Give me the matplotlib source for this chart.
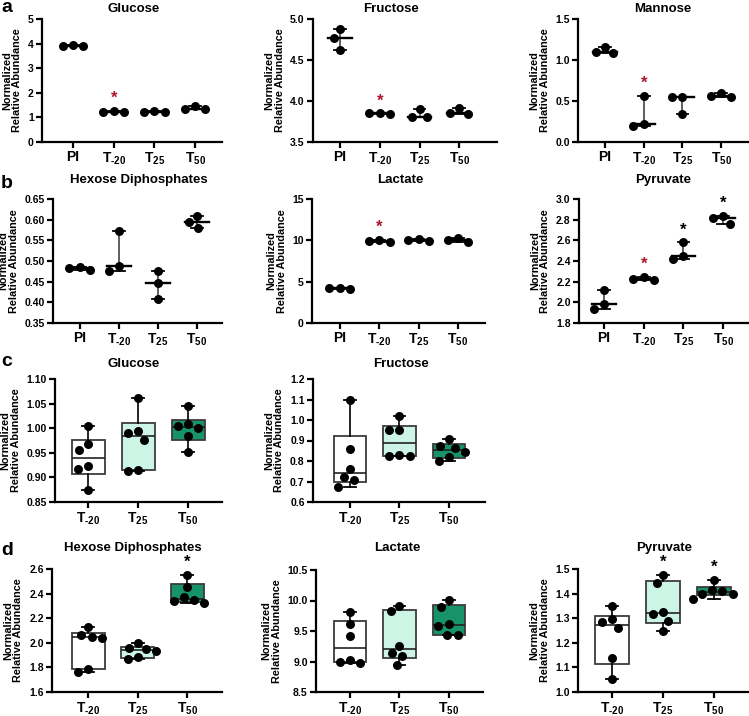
import numpy as np
import matplotlib
matplotlib.use('Agg')
import matplotlib.pyplot as plt

plt.rcParams['font.family'] = ['Liberation Sans', 'DejaVu Sans']
plt.rcParams['font.weight'] = 'bold'
plt.rcParams['mathtext.fontset'] = 'custom'
plt.rcParams['mathtext.rm'] = 'Liberation Sans:bold'
plt.rcParams['mathtext.bf'] = 'Liberation Sans:bold'
plt.rcParams['mathtext.it'] = 'Liberation Sans:bold'

# ---- data ----
labels4 = ['PI', r'$\mathrm{T}_{\mathrm{‐20}}$', r'$\mathrm{T}_{\mathrm{25}}$', r'$\mathrm{T}_{\mathrm{50}}$']
labels3 = labels4[1:]

# row a / b : median with range, n=3
glucose_a = [[3.90, 3.95, 3.90], [1.20, 1.28, 1.22], [1.20, 1.25, 1.22], [1.33, 1.47, 1.35]]
fructose_a = [[4.875, 4.77, 4.62], [3.84, 3.85, 3.85], [3.90, 3.81, 3.81], [3.91, 3.84, 3.85]]
mannose_a = [[1.16, 1.08, 1.10], [0.56, 0.20, 0.22], [0.55, 0.55, 0.34], [0.60, 0.55, 0.56]]
hexdip_b = [[0.478, 0.486, 0.484], [0.573, 0.476, 0.487], [0.476, 0.447, 0.409], [0.610, 0.594, 0.580]]
lactate_b = [[4.15, 4.22, 4.18], [9.85, 10.05, 9.95], [9.95, 10.12, 10.0], [9.85, 10.3, 10.1]]
pyruvate_b = [[2.12, 1.94, 1.98], [2.22, 2.245, 2.23], [2.58, 2.42, 2.45], [2.835, 2.76, 2.82]]

# row c / d : box plots, n=6
glucose_c = [[0.875, 0.918, 0.924, 0.956, 0.968, 1.004],
             [0.913, 0.915, 0.977, 0.990, 0.995, 1.061],
             [0.952, 0.985, 1.000, 1.005, 1.008, 1.045]]
fructose_c = [[0.675, 0.705, 0.720, 0.760, 0.860, 1.100],
              [0.822, 0.826, 0.828, 0.950, 0.952, 1.020],
              [0.800, 0.820, 0.845, 0.865, 0.875, 0.905]]
hexdip_d = [[1.765, 1.790, 2.040, 2.050, 2.065, 2.130],
            [1.865, 1.885, 1.930, 1.950, 1.955, 2.000],
            [2.320, 2.340, 2.350, 2.370, 2.450, 2.555]]
lactate_d = [[8.97, 9.00, 9.02, 9.42, 9.62, 9.81],
             [8.94, 9.09, 9.14, 9.26, 9.82, 9.91],
             [9.43, 9.44, 9.59, 9.61, 9.90, 10.01]]
pyruvate_d = [[1.052, 1.137, 1.260, 1.285, 1.295, 1.348],
              [1.250, 1.288, 1.318, 1.326, 1.442, 1.477],
              [1.380, 1.400, 1.400, 1.410, 1.415, 1.457]]

# y ticks per panel
yt_glucose_a = [0, 1, 2, 3, 4, 5]
yt_fructose_a = [3.5, 4.0, 4.5, 5.0]
yt_mannose_a = [0.0, 0.5, 1.0, 1.5]
yt_hexdip_b = [0.35, 0.40, 0.45, 0.50, 0.55, 0.60, 0.65]
yt_lactate_b = [0, 5, 10, 15]
yt_pyruvate_b = [1.8, 2.0, 2.2, 2.4, 2.6, 2.8, 3.0]
yt_glucose_c = [0.85, 0.90, 0.95, 1.00, 1.05, 1.10]
yt_fructose_c = [0.6, 0.7, 0.8, 0.9, 1.0, 1.1, 1.2]
yt_hexdip_d = [1.6, 1.8, 2.0, 2.2, 2.4, 2.6]
yt_lactate_d = [8.5, 9.0, 9.5, 10.0, 10.5]
yt_pyruvate_d = [1.0, 1.1, 1.2, 1.3, 1.4, 1.5]

# significance stars: (group index, colour)
RED = '#a8182a'
stars_glucose_a = [(1, RED)]
stars_fructose_a = [(1, RED)]
stars_mannose_a = [(1, RED)]
stars_lactate_b = [(1, RED)]
stars_pyruvate_b = [(1, RED), (2, 'black'), (3, 'black')]
stars_hexdip_d = [(2, 'black')]
stars_pyruvate_d = [(1, 'black'), (2, 'black')]

box_colors = ['white', '#cdf5e6', '#17936a']

W, H = 749, 716
fig = plt.figure(figsize=(W / 100, H / 100), dpi=100)


def make_ax(l, t, r, b, xlim, yticks, dec):
    ax = fig.add_axes([l / W, 1 - b / H, (r - l) / W, (b - t) / H])
    ax.set_xlim(*xlim)
    ax.set_ylim(yticks[0], yticks[-1])
    ax.set_yticks(yticks)
    ax.set_yticklabels([f'{t:.{dec}f}' for t in yticks])
    for s in ('top', 'right'):
        ax.spines[s].set_visible(False)
    for s in ('left', 'bottom'):
        ax.spines[s].set_linewidth(1.6)
    ax.tick_params(direction='out', length=4, width=1.6, pad=2)
    ax.tick_params(axis='y', labelsize=7.5)
    ax.tick_params(axis='x', labelsize=10, pad=2)
    ax.set_ylabel('Normalized\nRelative Abundance', fontsize=7.8, fontweight='bold',
                  linespacing=1.05, labelpad=4)
    return ax


def swarm(ax, vals, dia=10.5):
    p0 = ax.transData.transform((0, 0))
    p1 = ax.transData.transform((1, 1))
    sx, sy = p1[0] - p0[0], p1[1] - p0[1]
    vals = np.asarray(vals, float)
    placed = []
    offs = np.zeros(len(vals))
    for i in np.argsort(-vals, kind='stable'):
        y = vals[i] * sy
        cands = [0.0]
        for px, py in placed:
            dy = abs(py - y)
            if dy < dia:
                dx = np.sqrt(dia ** 2 - dy ** 2)
                cands += [px + dx, px - dx]
        cands.sort(key=lambda c: (round(abs(c), 6), c))
        for c in cands:
            if all((c - px) ** 2 + (y - py) ** 2 >= dia ** 2 - 1e-6 for px, py in placed):
                break
        placed.append((c, y))
        offs[i] = c / sx
    return offs


def add_stars(ax, groups, stars):
    for i, col in stars:
        ax.annotate('*', xy=(i, max(groups[i])), xytext=(0, 9), textcoords='offset points',
                    ha='center', va='center', fontsize=12, color=col, annotation_clip=False)


def range_plot(ax, groups, labels, stars):
    for i, vals in enumerate(groups):
        v = np.array(vals)
        med = np.median(v)
        ax.plot([i, i], [v.min(), v.max()], color='#333333', lw=1.1, zorder=2)
        for e in (v.min(), v.max()):
            ax.plot([i - 0.15, i + 0.15], [e, e], color='black', lw=1.3, zorder=2)
        ax.plot([i - 0.3, i + 0.3], [med, med], color='black', lw=1.7, zorder=2)
        ax.scatter(i + swarm(ax, v), v, s=42, color='black', linewidths=0, zorder=3)
    ax.set_xticks(range(len(groups)))
    ax.set_xticklabels(labels)
    add_stars(ax, groups, stars)


def box_plot(ax, groups, labels, stars):
    for i, vals in enumerate(groups):
        v = np.array(vals)
        q1, med, q3 = np.percentile(v, [25, 50, 75], method='weibull')
        st = [dict(med=med, q1=q1, q3=q3, whislo=v.min(), whishi=v.max(), fliers=[])]
        ax.bxp(st, positions=[i], widths=0.66, capwidths=0.24, patch_artist=True,
               showfliers=False,
               boxprops=dict(facecolor=box_colors[i], edgecolor='#3c3c3c', lw=1.3),
               medianprops=dict(color='#222222', lw=1.2),
               whiskerprops=dict(color='black', lw=1.2),
               capprops=dict(color='black', lw=1.3), manage_ticks=False)
        ax.scatter(i + swarm(ax, v), v, s=42, color='black', linewidths=0, zorder=3)
    ax.set_xticks(range(len(groups)))
    ax.set_xticklabels(labels)
    add_stars(ax, groups, stars)


# ---- row a ----
ax = make_ax(42, 19, 222, 142, (-0.76, 3.66), yt_glucose_a, 0)
range_plot(ax, glucose_a, labels4, stars_glucose_a)
ax = make_ax(313, 19, 497, 142, (-0.68, 3.95), yt_fructose_a, 1)
range_plot(ax, fructose_a, labels4, stars_fructose_a)
ax = make_ax(578, 19, 749, 142, (-0.70, 3.72), yt_mannose_a, 1)
range_plot(ax, mannose_a, labels4, stars_mannose_a)

# ---- row b ----
ax = make_ax(53, 199, 222, 323, (-0.69, 3.64), yt_hexdip_b, 2)
range_plot(ax, hexdip_b, labels4, [])
ax = make_ax(312, 199, 485, 323, (-0.71, 3.69), yt_lactate_b, 0)
range_plot(ax, lactate_b, labels4, stars_lactate_b)
ax = make_ax(579, 199, 749, 323, (-0.63, 3.65), yt_pyruvate_b, 1)
range_plot(ax, pyruvate_b, labels4, stars_pyruvate_b)

# ---- row c ----
ax = make_ax(55, 379, 222, 502, (-0.66, 2.68), yt_glucose_c, 2)
box_plot(ax, glucose_c, labels3, [])
ax = make_ax(313, 379, 485, 502, (-0.75, 2.73), yt_fructose_c, 1)
box_plot(ax, fructose_c, labels3, [])

# ---- row d ----
ax = make_ax(52, 569, 222, 692, (-0.73, 2.70), yt_hexdip_d, 1)
box_plot(ax, hexdip_d, labels3, stars_hexdip_d)
ax = make_ax(316, 570, 483, 692, (-0.69, 2.69), yt_lactate_d, 1)
box_plot(ax, lactate_d, labels3, [])
ax = make_ax(578, 569, 749, 692, (-0.67, 2.69), yt_pyruvate_d, 1)
box_plot(ax, pyruvate_d, labels3, stars_pyruvate_d)

# ---- titles and panel letters ----
titles = [('Glucose', 134, 12), ('Fructose', 391, 12), ('Mannose', 663, 12),
          ('Hexose Diphosphates', 139, 183), ('Lactate', 400, 183), ('Pyruvate', 663, 183),
          ('Glucose', 134, 367), ('Fructose', 401, 367),
          ('Hexose Diphosphates', 133, 551), ('Lactate', 397, 551), ('Pyruvate', 664, 551)]
for txt, x, y in titles:
    fig.text(x / W, 1 - y / H, txt, ha='center', va='baseline', fontsize=9.5, fontweight='bold')

for letter, y in [('a', 12), ('b', 188), ('c', 366), ('d', 555)]:
    fig.text(1 / W, 1 - y / H, letter, ha='left', va='baseline', fontsize=14, fontweight='bold')

fig.savefig('out.png', dpi=100)
